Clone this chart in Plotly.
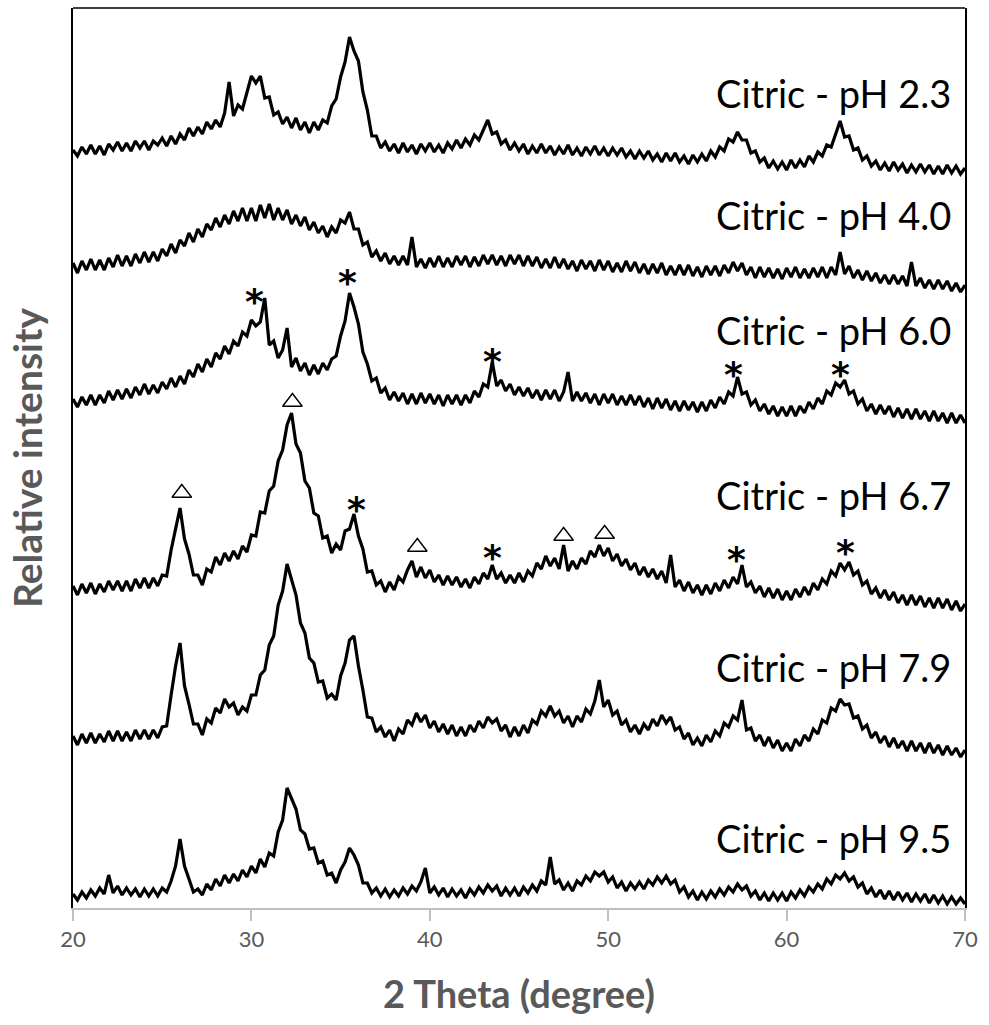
import plotly.graph_objects as go

# 2-theta scan grid (degrees), step 0.25
two_theta = [20 + 0.25 * i for i in range(201)]

# Relative intensity (stacked, arbitrary units)
ph_2_3 = [758,752,761,754, 763,754,762,753, 764,758,766,757, 765,757,767,760, 767,758,767,763,
          770,762,772,764, 774,768,780,772, 781,774,786,779, 788,781,795,826, 792,803,799,816,
          832,825,832,810, 811,793,796,784, 791,780,790,778, 786,775,786,778, 788,785,802,809,
          831,846,871,857, 847,816,798,772, 772,760,766,757, 764,755,765,756, 763,754,764,757,
          765,756,763,755, 765,759,768,760, 769,763,773,768, 779,788,774,776, 764,768,758,765,
          757,764,754,762, 755,764,755,762, 753,761,754,763, 753,760,752,761, 754,762,753,760,
          752,760,753,760, 751,757,749,757, 750,757,748,754, 746,755,747,755, 746,752,744,753,
          746,754,747,757, 751,761,757,769, 766,776,768,768, 755,757,746,750, 740,747,739,746,
          738,748,740,748, 741,752,746,756, 752,763,761,774, 787,771,772,758, 760,748,752,742,
          747,738,745,737, 746,738,744,735, 743,736,744,736, 743,734,742,734, 743,735,742,734,
          740]
ph_4_0 = [645,635,647,638, 649,638,648,638, 650,641,653,642, 652,642,654,645, 656,646,656,647,
          659,652,664,655, 668,662,675,666, 679,671,684,678, 690,681,693,684, 697,687,700,687,
          700,687,703,690, 704,688,700,688, 698,684,693,682, 691,678,686,675, 682,671,681,675,
          688,685,696,679, 679,663,666,651, 657,647,655,644, 652,643,652,643, 671,641,649,640,
          650,641,652,641, 650,641,652,643, 652,641,651,642, 653,644,653,643, 652,642,653,644,
          653,642,652,642, 651,640,649,640, 651,640,649,639, 647,637,648,639, 647,637,648,638,
          647,636,645,636, 647,637,646,635, 644,634,644,635, 645,633,642,633, 643,633,643,632,
          641,631,642,633, 642,632,643,635, 646,637,645,633, 641,630,641,631, 640,630,639,629,
          640,631,641,630, 639,630,640,631, 641,630,641,633, 656,634,642,630, 638,628,637,627,
          635,625,633,624, 633,624,632,622, 646,622,630,620, 628,619,628,619, 627,617,625,616,
          623]
ph_6_0 = [509,501,511,503, 513,503,513,505, 517,508,518,509, 519,510,521,513, 524,514,523,515,
          526,519,530,521, 532,524,538,531, 544,536,549,541, 555,549,562,554, 567,562,576,572,
          588,582,586,610, 563,567,550,558, 580,541,550,537, 545,533,543,534, 545,538,549,552,
          572,587,615,601, 584,556,544,527, 530,515,520,508, 516,507,515,504, 514,504,515,505,
          514,504,513,502, 513,504,513,503, 513,505,517,511, 524,521,546,522, 528,517,524,513,
          521,512,520,510, 518,508,518,509, 518,507,516,536, 507,516,507,515, 505,514,503,514,
          505,514,503,512, 503,513,503,512, 501,510,499,510, 500,509,498,507, 497,507,498,506,
          496,506,497,508, 500,511,504,516, 512,531,514,516, 503,508,497,504, 494,502,492,501,
          492,502,492,502, 495,506,499,510, 504,517,513,525, 521,528,514,517, 504,509,497,504,
          494,503,494,502, 491,500,490,499, 489,499,489,497, 487,497,487,495, 485,495,485,493,
          485]
ph_6_7 = [322,313,324,315, 325,314,324,316, 327,318,327,317, 327,317,329,320, 330,320,330,322,
          333,332,358,381, 400,369,354,333, 333,323,339,336, 351,343,355,347, 357,349,362,356,
          373,372,396,395, 417,422,447,458, 483,495,464,455, 427,420,395,392, 370,372,355,364,
          358,377,379,394, 372,359,336,337, 323,327,316,326, 318,331,326,338, 347,331,341,330,
          338,326,333,323, 332,323,331,321, 329,320,331,324, 335,329,343,329, 335,325,333,325,
          335,326,337,332, 345,339,352,342, 350,339,363,337, 347,339,350,344, 357,351,363,352,
          360,347,354,342, 349,338,345,333, 341,331,339,329, 337,325,353,321, 328,317,326,315,
          323,313,323,314, 325,317,328,320, 331,324,343,321, 326,315,322,311, 320,310,319,308,
          317,308,319,311, 321,313,325,318, 329,324,337,332, 345,338,346,333, 337,323,327,314,
          320,310,318,308, 316,305,313,303, 313,303,312,301, 310,300,310,300, 309,298,307,297,
          304]
ph_7_9 = [172,163,174,165, 175,165,174,166, 177,167,177,167, 176,167,178,169, 178,169,178,170,
          181,182,213,242, 265,222,204,184, 184,173,189,185, 200,195,209,201, 205,193,201,197,
          213,213,233,238, 263,272,303,317, 344,328,313,285, 275,250,245,226, 227,210,214,208,
          232,245,268,272, 242,218,191,190, 176,181,171,178, 167,179,174,188, 183,195,186,193,
          180,187,176,184, 174,183,172,181, 172,183,176,187, 180,191,185,189, 177,183,171,181,
          172,183,175,188, 184,197,192,202, 192,197,185,192, 181,192,186,199, 194,207,228,201,
          208,193,197,183, 188,176,183,174, 184,178,189,182, 193,185,191,178, 181,169,175,163,
          170,162,173,166, 177,172,185,181, 192,188,208,178, 180,167,173,162, 171,160,168,157,
          165,157,169,162, 173,167,179,174, 188,185,200,197, 209,203,204,190, 192,179,183,170,
          176,165,172,161, 170,160,167,157, 167,157,165,155, 165,155,163,153, 162,153,160,151,
          158]
ph_9_5 = [14,8,16,10, 18,12,20,14, 33,15,22,13, 20,13,19,11, 19,12,19,12,
          20,16,27,42, 69,42,29,16, 19,13,24,18, 29,22,33,25, 34,27,38,31,
          42,35,49,41, 55,52,76,88, 120,109,99,78, 74,59,60,45, 47,33,35,25,
          38,46,60,53, 43,25,25,15, 20,12,19,11, 18,12,20,14, 22,17,26,40,
          15,21,13,20, 11,19,12,18, 10,19,13,21, 15,23,17,22, 12,20,13,20,
          12,21,15,23, 17,27,23,51, 24,28,18,25, 17,27,23,32, 27,36,32,36,
          26,31,20,26, 17,25,19,26, 19,28,23,31, 25,32,24,28, 16,21,11,17,
          8,16,9,17, 11,19,13,21, 16,24,18,22, 12,17,8,15, 7,15,8,15,
          7,16,10,18, 12,21,16,24, 19,29,24,33, 29,35,27,31, 21,25,14,20,
          11,18,9,17, 8,16,8,15, 6,14,7,14, 5,13,5,12, 4,11,4,10,
          4]

series_names = ["Citric - pH 2.3", "Citric - pH 4.0", "Citric - pH 6.0",
                "Citric - pH 6.7", "Citric - pH 7.9", "Citric - pH 9.5"]
series_values = [ph_2_3, ph_4_0, ph_6_0, ph_6_7, ph_7_9, ph_9_5]
label_levels = [815, 693, 578, 413, 241, 70]

# Phase markers (2-theta, intensity level)
star_theta = [30.2, 35.4, 43.5, 57.0, 63.0, 35.9, 43.5, 57.2, 63.3]
star_level = [616, 635, 556, 543, 543, 408, 360, 358, 365]
tri_theta = [26.1, 32.3, 39.3, 47.5, 49.8]
tri_level = [415, 506, 361, 372, 374]

x_ticks = [20, 30, 40, 50, 60, 70]

fig = go.Figure()
for name, vals in zip(series_names, series_values):
    fig.add_trace(go.Scatter(x=two_theta, y=vals, mode="lines", name=name,
                             line=dict(color="black", width=3.2), showlegend=False))

fig.add_trace(go.Scatter(x=tri_theta, y=tri_level, mode="markers", showlegend=False,
                         marker=dict(symbol="triangle-up-open", size=17, color="black",
                                     line=dict(color="black", width=1.4))))

for xv, yv in zip(star_theta, star_level):
    fig.add_annotation(x=xv, y=yv, text="<b>*</b>", showarrow=False, xanchor="center",
                       yanchor="middle", yshift=-9,
                       font=dict(family="DejaVu Sans", size=36, color="black"))

for name, lv in zip(series_names, label_levels):
    fig.add_annotation(x=70, y=lv, text=name, showarrow=False, xanchor="right", yanchor="middle",
                       xshift=-12, font=dict(family="Lato", size=38, color="black"))

fig.add_shape(type="line", xref="paper", yref="paper", x0=0, x1=1, y0=1, y1=1,
              line=dict(color="black", width=1.5))

fig.update_layout(
    width=989, height=1025,
    margin=dict(l=73, r=24, t=8, b=117),
    paper_bgcolor="white", plot_bgcolor="white",
    xaxis=dict(range=[20, 70], tickvals=x_ticks, showgrid=False, zeroline=False,
               showline=True, linecolor="#bfbfbf", linewidth=1.5,
               ticks="outside", ticklen=11, tickcolor="#bfbfbf", tickwidth=1.5,
               tickfont=dict(family="Lato", size=22, color="#595959"),
               title=dict(text="<b>2 Theta (degree)</b>", standoff=30,
                          font=dict(family="Lato", size=38, color="#595959"))),
    yaxis=dict(range=[0, 900], showticklabels=False, showgrid=False, zeroline=False,
               showline=True, mirror=True, linecolor="black", linewidth=1.5, ticks="",
               title=dict(text="<b>Relative intensity</b>", standoff=17,
                          font=dict(family="Lato", size=39, color="#595959"))),
)

fig.write_html("out.html")
